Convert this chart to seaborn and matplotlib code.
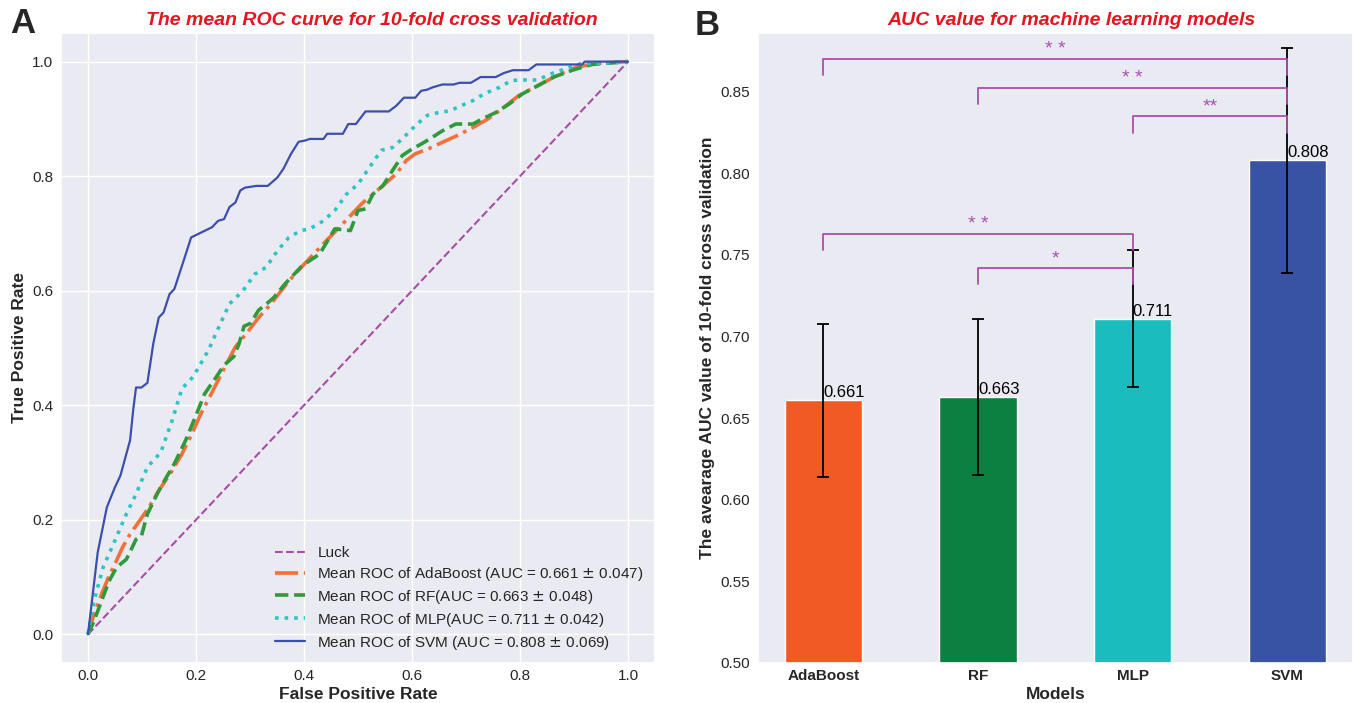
import matplotlib
matplotlib.use("Agg")
import matplotlib.pyplot as plt
import seaborn as sns
import pandas as pd

sns.set_theme(style="darkgrid")
plt.rcParams["font.family"] = ["Liberation Sans", "DejaVu Sans"]

# ROC curves
ada_fpr = [0, 0.011, 0.025, 0.039, 0.050, 0.064, 0.078, 0.096, 0.113, 0.131, 0.152, 0.174, 0.191,
           0.209, 0.230, 0.252, 0.273, 0.294, 0.316, 0.337, 0.372, 0.401, 0.436, 0.472, 0.507,
           0.543, 0.571, 0.589, 0.606, 0.631, 0.656, 0.684, 0.713, 0.741, 0.770, 0.798, 0.833,
           0.869, 0.904, 0.940, 1.0]
ada_tpr = [0, 0.035, 0.070, 0.102, 0.123, 0.152, 0.175, 0.199, 0.222, 0.251, 0.280, 0.315, 0.347,
           0.385, 0.423, 0.464, 0.502, 0.526, 0.553, 0.575, 0.617, 0.647, 0.682, 0.717, 0.752,
           0.781, 0.804, 0.827, 0.839, 0.848, 0.859, 0.871, 0.885, 0.900, 0.920, 0.941, 0.958,
           0.976, 0.990, 0.997, 1.0]

rf_fpr = [0, 0.011, 0.025, 0.039, 0.053, 0.071, 0.082, 0.089, 0.099, 0.110, 0.128, 0.145, 0.160,
          0.181, 0.199, 0.216, 0.238, 0.252, 0.270, 0.280, 0.289, 0.301, 0.316, 0.333, 0.344,
          0.365, 0.397, 0.429, 0.457, 0.486, 0.500, 0.514, 0.528, 0.546, 0.564, 0.582, 0.601,
          0.617, 0.638, 0.656, 0.681, 0.713, 0.730, 0.755, 0.780, 0.805, 0.833, 0.862, 0.897,
          0.933, 1.0]
rf_tpr = [0, 0.023, 0.058, 0.093, 0.117, 0.131, 0.152, 0.166, 0.172, 0.210, 0.245, 0.274, 0.298,
          0.339, 0.380, 0.420, 0.450, 0.470, 0.485, 0.508, 0.538, 0.543, 0.566, 0.579, 0.588,
          0.612, 0.644, 0.664, 0.708, 0.705, 0.740, 0.743, 0.769, 0.783, 0.810, 0.836, 0.848,
          0.856, 0.868, 0.879, 0.891, 0.891, 0.900, 0.911, 0.926, 0.944, 0.958, 0.973, 0.985,
          0.995, 1.0]

mlp_fpr = [0, 0.011, 0.028, 0.050, 0.071, 0.089, 0.110, 0.135, 0.156, 0.174, 0.195, 0.223, 0.245,
           0.262, 0.287, 0.309, 0.330, 0.351, 0.372, 0.394, 0.411, 0.436, 0.457, 0.479, 0.500,
           0.521, 0.543, 0.564, 0.585, 0.606, 0.628, 0.649, 0.670, 0.691, 0.713, 0.734, 0.762,
           0.784, 0.805, 0.833, 0.855, 0.883, 0.911, 0.954, 1.0]
mlp_tpr = [0, 0.058, 0.117, 0.164, 0.210, 0.245, 0.292, 0.318, 0.374, 0.429, 0.450, 0.496, 0.542,
           0.577, 0.600, 0.629, 0.641, 0.670, 0.693, 0.705, 0.708, 0.722, 0.740, 0.769, 0.786,
           0.815, 0.845, 0.850, 0.868, 0.888, 0.906, 0.911, 0.914, 0.923, 0.932, 0.944, 0.955,
           0.967, 0.968, 0.968, 0.978, 0.987, 0.996, 0.997, 1.0]

svm_fpr = [0, 0.018, 0.035, 0.050, 0.060, 0.078, 0.084, 0.089, 0.099, 0.110, 0.121, 0.131, 0.140,
           0.151, 0.160, 0.177, 0.191, 0.230, 0.241, 0.252, 0.262, 0.273, 0.282, 0.291, 0.312,
           0.333, 0.351, 0.362, 0.376, 0.390, 0.401, 0.411, 0.436, 0.443, 0.472, 0.482, 0.496,
           0.514, 0.557, 0.571, 0.585, 0.606, 0.617, 0.628, 0.638, 0.656, 0.677, 0.688, 0.709,
           0.727, 0.755, 0.770, 0.787, 0.816, 0.830, 0.915, 0.920, 1.0]
svm_tpr = [0, 0.143, 0.222, 0.257, 0.277, 0.339, 0.394, 0.431, 0.431, 0.439, 0.508, 0.553, 0.562,
           0.594, 0.603, 0.652, 0.693, 0.711, 0.722, 0.725, 0.746, 0.754, 0.775, 0.780, 0.783,
           0.783, 0.798, 0.813, 0.839, 0.860, 0.862, 0.865, 0.865, 0.874, 0.874, 0.891, 0.891,
           0.913, 0.913, 0.923, 0.937, 0.937, 0.949, 0.951, 0.955, 0.960, 0.960, 0.963, 0.963,
           0.973, 0.973, 0.980, 0.985, 0.985, 0.995, 0.995, 1.0, 1.0]

models = ["AdaBoost", "RF", "MLP", "SVM"]
auc_mean = [0.661, 0.663, 0.711, 0.808]
auc_std = [0.047, 0.048, 0.042, 0.069]

# significance brackets: (left model, right model, height, stars)
sig_pairs = [("AdaBoost", "SVM", 0.870, "* *"),
             ("RF", "SVM", 0.8525, "* *"),
             ("MLP", "SVM", 0.835, "**"),
             ("AdaBoost", "MLP", 0.763, "* *"),
             ("RF", "MLP", 0.742, "*")]

bar_colors = ["#f15a24", "#0c8040", "#1bbcbe", "#3953a4"]
title_red = "#e8141c"
sig_purple = "#b04cb0"

fig = plt.figure(figsize=(13.55, 7.03), dpi=100)
ax1 = fig.add_axes([0.045, 0.0569, 0.4384, 0.8962])
ax2 = fig.add_axes([0.5592, 0.0569, 0.4393, 0.8962])

# ---- A: ROC curves
sns.lineplot(x=[0, 1], y=[0, 1], ax=ax1, color="#a84ca8", lw=1.5, linestyle="--", label="Luck")
sns.lineplot(x=ada_fpr, y=ada_tpr, ax=ax1, sort=False, estimator=None, color="#f4703a", lw=2.6,
             linestyle="-.", label="Mean ROC of AdaBoost (AUC = 0.661 $\\pm$ 0.047)")
sns.lineplot(x=rf_fpr, y=rf_tpr, ax=ax1, sort=False, estimator=None, color="#2e9a3c", lw=2.6,
             linestyle="--", label="Mean ROC of RF(AUC = 0.663 $\\pm$ 0.048)")
sns.lineplot(x=mlp_fpr, y=mlp_tpr, ax=ax1, sort=False, estimator=None, color="#2ec4c4", lw=2.6,
             linestyle=":", label="Mean ROC of MLP(AUC = 0.711 $\\pm$ 0.042)")
sns.lineplot(x=svm_fpr, y=svm_tpr, ax=ax1, sort=False, estimator=None, color="#3c4fae", lw=1.6,
             linestyle="-", label="Mean ROC of SVM (AUC = 0.808 $\\pm$ 0.069)")
ax1.set_xlim(-0.05, 1.05)
ax1.set_ylim(-0.05, 1.05)
ax1.set_xticks([0, 0.2, 0.4, 0.6, 0.8, 1.0])
ax1.set_yticks([0, 0.2, 0.4, 0.6, 0.8, 1.0])
ax1.tick_params(labelsize=11, length=0)
ax1.tick_params(axis="x", pad=4)
ax1.tick_params(axis="y", pad=5.5)
ax1.set_xlabel("False Positive Rate", fontsize=12.5, fontweight="bold", labelpad=3)
ax1.set_ylabel("True Positive Rate", fontsize=12.5, fontweight="bold")
ax1.set_title("The mean ROC curve for 10-fold cross validation", color=title_red, fontsize=14,
              fontweight="bold", fontstyle="italic", pad=6, x=0.524)
ax1.legend(loc="lower right", frameon=False, fontsize=11, labelspacing=0.32,
           borderaxespad=0.35)

# ---- B: AUC bars
df = pd.DataFrame({"model": models, "auc": auc_mean})
sns.barplot(data=df, x="model", y="auc", hue="model", palette=bar_colors, saturation=1,
            width=0.5, legend=False, ax=ax2)
ax2.errorbar(x=range(len(models)), y=auc_mean, yerr=auc_std, fmt="none", ecolor="black",
             elinewidth=1.3, capsize=4, capthick=1.3, zorder=3)
for i, v in enumerate(auc_mean):
    ax2.text(i, v, f"{v:.3f}", ha="left", va="bottom", fontsize=12, color="black")
for left, right, h, stars in sig_pairs:
    x0, x1 = models.index(left), models.index(right)
    ax2.plot([x0, x0, x1, x1], [h - 0.01, h, h, h - 0.01], color=sig_purple, lw=1.3, zorder=4)
    ax2.text((x0 + x1) / 2, h + 0.003, stars, ha="center", va="baseline", color=sig_purple,
             fontsize=14)
ax2.set_xlim(-0.425, 3.425)
ax2.set_ylim(0.5, 0.886)
ax2.grid(False)
ax2.tick_params(labelsize=11, length=0)
ax2.tick_params(axis="x", pad=4)
ax2.tick_params(axis="y", pad=5.5)
for lab in ax2.get_xticklabels():
    lab.set_fontweight("bold")
ax2.set_xlabel("Models", fontsize=12.5, fontweight="bold", labelpad=3)
ax2.set_ylabel("The avearage AUC value of 10-fold cross validation", fontsize=12.5, fontweight="bold")
ax2.set_title("AUC value for machine learning models", color=title_red, fontsize=14,
              fontweight="bold", fontstyle="italic", pad=6, x=0.527)

fig.text(0.017, 0.967, "A", fontsize=25, fontweight="bold", ha="center", va="center")
fig.text(0.522, 0.964, "B", fontsize=25, fontweight="bold", ha="center", va="center")

fig.savefig("out.png", dpi=100)
